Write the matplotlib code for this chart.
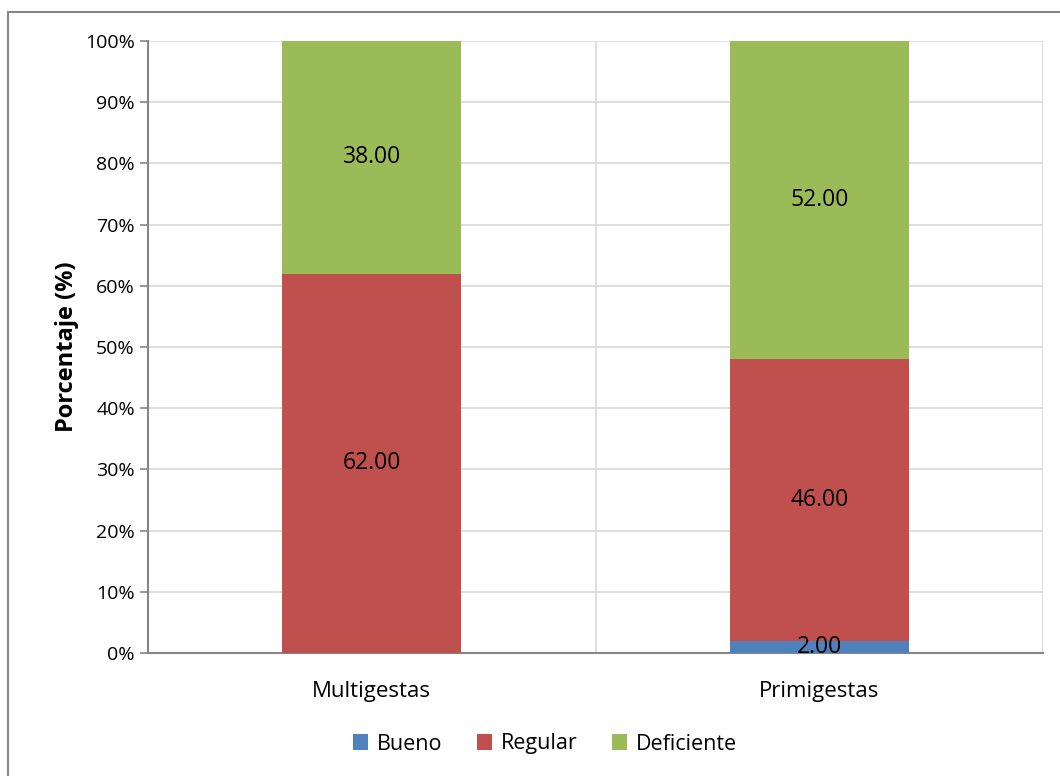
import matplotlib.pyplot as plt
from matplotlib.patches import Rectangle
from matplotlib.ticker import PercentFormatter

# Datos del grafico
grupos = ['Multigestas', 'Primigestas']
niveles = ['Bueno', 'Regular', 'Deficiente']
bueno = [0.0, 2.0]
regular = [62.0, 46.0]
deficiente = [38.0, 52.0]
colores = ['#4F81BD', '#C0504D', '#9BBB59']

plt.rcParams['font.family'] = ['Open Sans', 'DejaVu Sans']

fig = plt.figure(figsize=(10.6, 7.76), dpi=100)
W, H = 1060, 776

# Marco exterior del grafico
fig.patches.append(Rectangle((8 / W, -0.1), 1.2, 1 - 12 / H + 0.1,
                             transform=fig.transFigure, fill=False,
                             edgecolor='#868686', linewidth=1.5))

ax = fig.add_axes([148 / W, 1 - 653 / H, (1043 - 148) / W, (653 - 41) / H])

x = range(len(grupos))
base = [0.0] * len(grupos)
for nombre, valores, color in zip(niveles, [bueno, regular, deficiente], colores):
    ax.bar(x, valores, width=0.4, bottom=base, color=color,
           label=nombre, zorder=3)
    for i, (b, v) in enumerate(zip(base, valores)):
        if v > 0:
            ax.text(i, b + v / 2, f'{v:.2f}', ha='center', va='center',
                    fontsize=16.5, color='black', zorder=4)
    base = [b + v for b, v in zip(base, valores)]

ax.set_xlim(-0.5, 1.5)
ax.set_ylim(0, 100)
ax.set_yticks(range(0, 101, 10))
ax.yaxis.set_major_formatter(PercentFormatter(decimals=0))
ax.set_xticks(list(x))
ax.set_xticklabels(grupos, fontsize=16)
ax.tick_params(axis='y', labelsize=14, length=6, color='#868686', width=1.2)
ax.tick_params(axis='x', length=0, pad=20)
ax.set_ylabel('Porcentaje (%)', fontsize=17, fontweight='bold', labelpad=4)

# Rejilla
ax.grid(axis='y', color='#D9D9D9', linewidth=1.2, zorder=0)
ax.axvline(0.5, color='#D9D9D9', linewidth=1.2, zorder=0)
ax.axvline(1.5, color='#D9D9D9', linewidth=2, zorder=0)

for lado in ['top', 'right']:
    ax.spines[lado].set_visible(False)
ax.spines['left'].set_color('#868686')
ax.spines['left'].set_linewidth(1.5)
ax.spines['bottom'].set_color('#868686')
ax.spines['bottom'].set_linewidth(1.5)

fig.legend(loc='center', bbox_to_anchor=(545 / W, 1 - 744 / H), ncol=3,
           frameon=False, fontsize=15.5, handlelength=0.7, handleheight=0.7,
           handletextpad=0.4, columnspacing=1.6, borderpad=0)

fig.savefig('out.png', dpi=100)
